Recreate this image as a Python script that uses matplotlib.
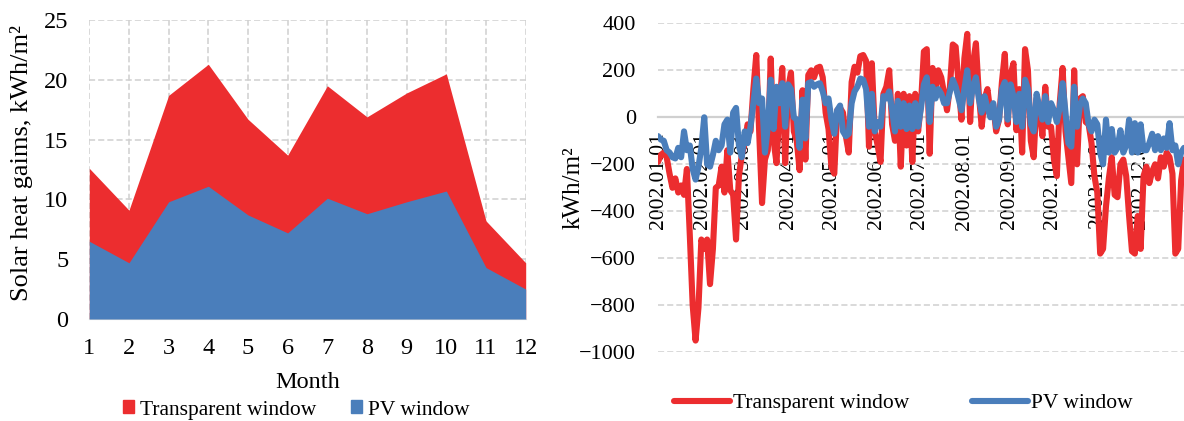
import numpy as np
import pandas as pd
import matplotlib
matplotlib.use('Agg')
import matplotlib.pyplot as plt
import matplotlib.dates as mdates
from matplotlib.patches import Patch
from matplotlib.lines import Line2D

plt.rcParams['font.family'] = ['Liberation Serif', 'DejaVu Serif']

RED = '#EC2D2F'
BLUE = '#4A7EBB'
GRID = '#D0D0D0'

# Monthly solar heat gains, kWh/m2
months = np.arange(1, 13)
transparent_monthly = [12.6, 9.1, 18.7, 21.3, 16.7, 13.7, 19.5, 16.9, 18.9, 20.5, 8.2, 4.7]
pv_monthly = [6.5, 4.7, 9.8, 11.1, 8.7, 7.2, 10.1, 8.8, 9.8, 10.7, 4.3, 2.5]

# Daily balance, sampled every second day of 2002 (quarter by quarter)
tw_q1 = [-190, -160, -150, -170, -240, -300, -260, -320, -290, -330, -220, -500,
         -800, -950, -810, -520, -560, -520, -710, -560, -300, -290, -210, -320,
         -140, -310, -330, -520, -250, -160, -110, -30, -60, 120, 265, -60,
         -365, -180, -140, 250, -100, -195, 30, 210, -195]
tw_q2 = [120, 190, -60, -100, -225, 115, -180, 180, 200, 170, 210, 215,
         170, 20, -50, -210, -240, 30, 40, 20, -80, -150, 150, 215,
         190, 260, 265, 240, -125, 230, -60, -120, -190, 100, 130, 200,
         -30, -100, 100, -210, 100, -120, 90, -190, 100]
tw_q3 = [-60, 60, 280, 290, -155, 210, 120, 200, 170, 100, 30, 130,
         310, 300, 140, -10, 250, 355, -20, 230, 315, 100, -40, 80,
         120, 20, 50, -60, -10, 150, 270, -30, 180, 230, -55, 120,
         -150, 290, 200, -100, -170, 80, 40, -80, 130, -40]
tw_q4 = [-40, -180, -250, 60, 210, -60, -170, -280, 200, -200, 80, 90,
         -20, -30, -110, -250, -320, -580, -560, -380, -260, -170, -330, -340,
         -200, -180, -250, -420, -570, -580, -420, -560, -250, -210, -280, -230,
         -200, -260, -170, -210, -150, -170, -240, -580, -560, -270, -180]

pv_q1 = [-80, -95, -100, -140, -150, -170, -175, -130, -170, -60, -140, -120,
         -220, -265, -210, -130, 0, -200, -210, -160, -100, -140, -120, -30,
         -10, -150, 20, 40, -120, -170, -60, -110, -40, 60, 165, 60,
         80, -150, -40, 160, -50, 130, 60, 145, -40]
pv_q2 = [140, 120, 0, -10, -130, 75, -90, 145, 150, 130, 140, 145,
         110, 60, 80, -10, -70, 30, 50, -60, -80, -70, 60, 110,
         130, 165, 160, 120, -40, 100, -60, -20, -40, 90, 80, 110,
         30, -60, 70, -40, 60, -50, 50, -50, 60]
pv_q3 = [-40, 40, 140, 170, -20, 130, 80, 120, 100, 60, 60, 110,
         160, 130, 80, 30, 120, 200, 60, 130, 170, 80, 20, 90,
         40, 0, 60, -40, -10, 120, 150, -10, 140, 90, -20, 100,
         -40, 160, 120, -30, -60, 100, 40, -10, 90, -20]
pv_q4 = [60, 30, -20, 40, 145, 20, -110, -125, 130, -40, 50, 80,
         60, -30, -60, -10, -30, -150, -200, -10, -150, -50, -150, -130,
         -55, -150, -120, -10, -150, -25, -150, -30, -140, -140, -110, -70,
         -140, -80, -140, -90, -130, -25, -140, -120, -200, -150, -130]

transparent_daily = tw_q1 + tw_q2 + tw_q3 + tw_q4
pv_daily = pv_q1 + pv_q2 + pv_q3 + pv_q4
days = pd.date_range('2002-01-01', '2002-12-31', freq='2D')
month_starts = pd.date_range('2002-01-01', periods=12, freq='MS')

fig = plt.figure(figsize=(11.84, 4.21), dpi=100)

# ---- left: monthly area chart ----
ax1 = fig.add_axes([89.3 / 1184, 1 - 319 / 421, 436.4 / 1184, 299 / 421])
ax1.fill_between(months, 0, transparent_monthly, color=RED, lw=0, zorder=2)
ax1.fill_between(months, 0, pv_monthly, color=BLUE, lw=0, zorder=3)
ax1.set_xlim(1, 12)
ax1.set_ylim(0, 25)
ax1.set_xticks(months)
ax1.set_yticks(np.arange(0, 26, 5))
ax1.set_axisbelow(True)
ax1.grid(True, color=GRID, lw=1.1, ls=(0, (4, 2)))
for s in ['top', 'right', 'left']:
    ax1.spines[s].set_visible(False)
ax1.spines['bottom'].set_color('#D9D9D9')
ax1.tick_params(length=0, labelsize=17.5, pad=14)
ax1.tick_params(axis='y', pad=15)
ax1.set_xlabel('Month', fontsize=17.5, labelpad=9)
fig.text(22 / 1184, 1 - 163 / 421, 'Solar heat gaims, kWh/m²', rotation=90,
         ha='center', va='center', fontsize=19)
ax1.legend(handles=[Patch(color=RED, label='Transparent window'),
                    Patch(color=BLUE, label='PV window')],
           loc='center', bbox_to_anchor=(296 / 1184, 1 - 410 / 421),
           bbox_transform=fig.transFigure, ncol=2, frameon=False,
           fontsize=15.5, handlelength=0.55, handleheight=0.55,
           handletextpad=0.25, columnspacing=1.6)

# ---- right: daily line chart ----
ax2 = fig.add_axes([658 / 1184, 1 - 352.3 / 421, 526 / 1184, 329 / 421])
ax2.plot(days, transparent_daily, color=RED, lw=4.4, solid_joinstyle='round',
         solid_capstyle='round', zorder=3)
ax2.plot(days, pv_daily, color=BLUE, lw=4.4, solid_joinstyle='round',
         solid_capstyle='round', zorder=4)
ax2.set_ylim(-1000, 400)
ax2.set_yticks(np.arange(-1000, 401, 200))
ax2.set_xlim(pd.Timestamp('2002-01-01'), pd.Timestamp('2002-12-31'))
ax2.set_xticks(month_starts)
ax2.xaxis.set_major_formatter(mdates.DateFormatter('%Y.%m.%d'))
ax2.set_axisbelow(True)
ax2.grid(True, axis='y', color=GRID, lw=1.1, ls=(0, (4, 2)))
for s in ['top', 'right', 'left']:
    ax2.spines[s].set_visible(False)
ax2.spines['bottom'].set_position(('data', 0))
ax2.spines['bottom'].set_color('#D0D0D0')
ax2.spines['bottom'].set_linewidth(1.6)
ax2.spines['bottom'].set_zorder(1)
ax2.tick_params(length=0, labelsize=15.5)
ax2.tick_params(axis='y', pad=16, labelsize=16)
ax2.tick_params(axis='x', pad=11, labelrotation=90)
fig.text(574 / 1184, 1 - 188 / 421, 'kWh/m²', rotation=90,
         ha='center', va='center', fontsize=18)
ax2.legend(handles=[Line2D([], [], color=RED, lw=4.4, solid_capstyle='round',
                           label='Transparent window'),
                    Line2D([], [], color=BLUE, lw=4.4, solid_capstyle='round',
                           label='PV window')],
           loc='center', bbox_to_anchor=(903 / 1184, 1 - 403 / 421),
           bbox_transform=fig.transFigure, ncol=2, frameon=False,
           fontsize=15.5, handlelength=2.6, handletextpad=0.15, columnspacing=2.9)

fig.savefig('out.png', dpi=100)
